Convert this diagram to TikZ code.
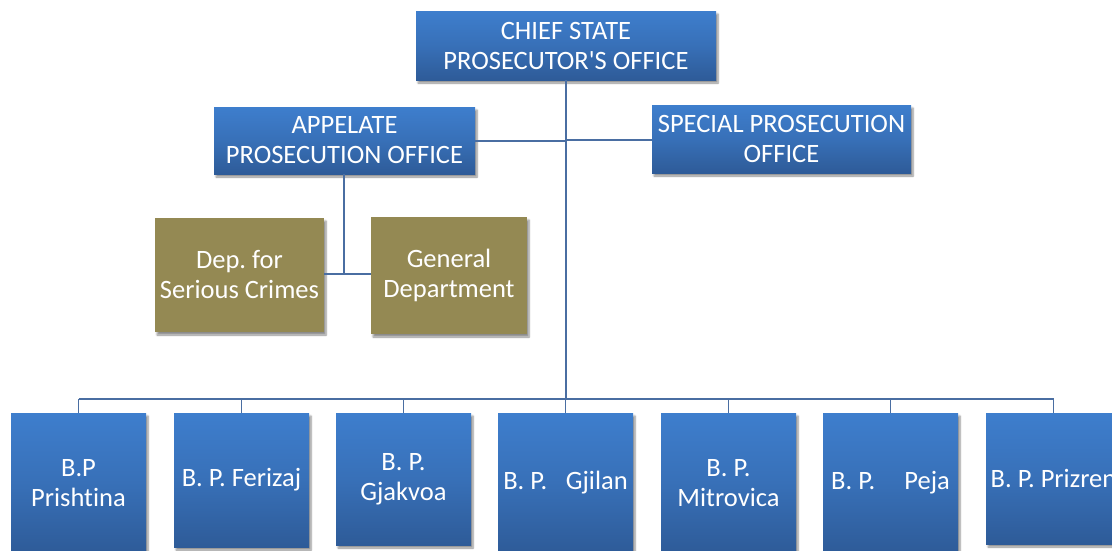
\documentclass[tikz,border=0pt]{standalone}
\usepackage{fontspec}
\setmainfont[Ligatures=NoCommon]{Carlito}
\usetikzlibrary{shadows.blur}
\frenchspacing
\definecolor{btop}{RGB}{62,126,205}
\definecolor{bbot}{RGB}{46,91,152}
\definecolor{olive}{RGB}{148,137,83}
\definecolor{conn}{RGB}{74,110,162}
\tikzset{
  box/.style={rectangle, inner sep=0pt, align=center, text=white,
    font=\fontsize{26.5}{30}\selectfont,
    blur shadow={shadow xshift=2pt, shadow yshift=-3pt, shadow blur steps=6, shadow opacity=45}},
  bluebox/.style={box, top color=btop, bottom color=bbot, middle color=btop!60!bbot},
  olivebox/.style={box, fill=olive},
  conline/.style={draw=conn, line width=1.8pt},
}
\begin{document}
\begin{tikzpicture}[x=1pt,y=-1pt]
\useasboundingbox (0,0) rectangle (1112,550);
% top level
\node[bluebox, minimum width=300pt, minimum height=69pt] (chief) at (566,45.5) {CHIEF STATE\\PROSECUTOR\textquotesingle S OFFICE};
\node[bluebox, minimum width=261pt, minimum height=67pt] (app) at (344.5,140.5) {APPELATE\\PROSECUTION OFFICE};
\node[bluebox, minimum width=259pt, minimum height=68pt] (spec) at (781.5,139) {SPECIAL PROSECUTION\\OFFICE};
\node[olivebox, minimum width=169pt, minimum height=114pt] (dep) at (239.5,275) {Dep. for\\Serious Crimes};
\node[olivebox, minimum width=156pt, minimum height=117pt] (gen) at (449,275.5) {General\\Department};
% bottom row
\node[bluebox, minimum width=135pt, minimum height=140pt] (b1) at (78.5,483) {B.P\\Prishtina};
\node[bluebox, minimum width=135pt, minimum height=134pt] (b2) at (241.5,480) {B. P. Ferizaj};
\node[bluebox, minimum width=135pt, minimum height=132pt] (b3) at (403.5,479) {B. P.\\Gjakvoa};
\node[bluebox, minimum width=135pt, minimum height=140pt] (b4) at (565.5,483) {B. P.\hspace{0.7em}Gjilan};
\node[bluebox, minimum width=135pt, minimum height=140pt] (b5) at (728.5,483) {B. P.\\Mitrovica};
\node[bluebox, minimum width=135pt, minimum height=140pt] (b6) at (890.5,483) {B. P.\hspace{1.1em}Peja};
\node[bluebox, minimum width=135pt, minimum height=131pt] (b7) at (1053.5,478.5) {B. P. Prizren};
% connectors
\coordinate (bus) at (566,399);
\coordinate (tapp) at (566,141);
\coordinate (tspec) at (566,140);
\coordinate (djoin) at (344,274);
\begin{scope}[on background layer/.try]
\draw[conline] (chief.south) -- (bus);
\draw[conline] (app.east |- tapp) -- (tapp);
\draw[conline] (tspec) -- (spec.west |- tspec);
\draw[conline] (app.south -| djoin) -- (djoin);
\draw[conline] (dep.east |- djoin) -- (gen.west |- djoin);
\draw[conline] (b1.north |- bus) -- (b7.north |- bus);
\foreach \b in {b1,b2,b3,b4,b5,b6,b7}{
  \draw[conline] (\b.north |- bus) -- (\b.north);
}
\end{scope}
\end{tikzpicture}
\end{document}
